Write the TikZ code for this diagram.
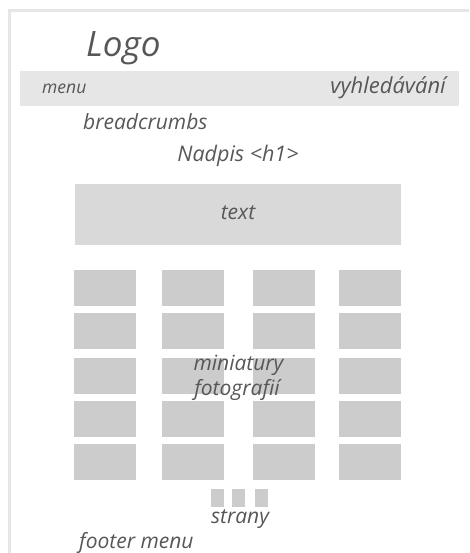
\documentclass[tikz,border=0pt]{standalone}
\usepackage{fontspec}
\setmainfont{Open Sans}
\definecolor{wftext}{HTML}{575757}
\definecolor{wfbar}{HTML}{E6E6E6}
\definecolor{wfbox}{HTML}{D9D9D9}
\definecolor{wfthumb}{HTML}{CCCCCC}
\tikzset{
  lbl/.style={inner sep=0pt, text=wftext, font=\itshape\fontsize{#1}{#1}\selectfont},
  lbl/.default=21,
}
\begin{document}
\begin{tikzpicture}[x=1pt,y=-1pt]
\useasboundingbox (0,0) rectangle (469,553);

% FRAME
 \draw[wfbar, line width=3pt] (9.5,553) -- (9.5,10.5) -- (469,10.5);

% HEADER
 \fill[wfbar] (20,71) rectangle (459,106);
 \node[lbl=35, anchor=base west] (logo) at (86,57) {Logo};
 \node[lbl=17.5, anchor=base west] (menu) at (42,94) {menu};
 \node[lbl=22, anchor=base east] (search) at (446,94) {vyhledávání};
 \node[lbl, anchor=base west] (crumbs) at (83,130) {breadcrumbs};
 \node[lbl=21.5, anchor=base] (title) at (238,162) {Nadpis <h1>};

% TEXT
 \fill[wfbox] (75,184) rectangle (401,245);
 \node[lbl, anchor=base] (text) at (238,219) {text};

% THUMBS
 \foreach \x in {74,162,253,339}
  \foreach \y in {270,313,358,401,444}
   \fill[wfthumb] (\x,\y) rectangle +(62,36);
 \node[lbl, anchor=base] (thumbs) at (238.5,370) {miniatury};
 \node[lbl, anchor=base] (thumbs2) at (237,395) {fotografií};

% PAGES
 \foreach \x in {211,232,255}
   \fill[wfthumb] (\x,489) rectangle +(13,18);
 \node[lbl, anchor=base] (pages) at (240,523) {strany};

% FOOTER
 \node[lbl, anchor=base west] (footer) at (79,548) {footer menu};

\end{tikzpicture}
\end{document}
